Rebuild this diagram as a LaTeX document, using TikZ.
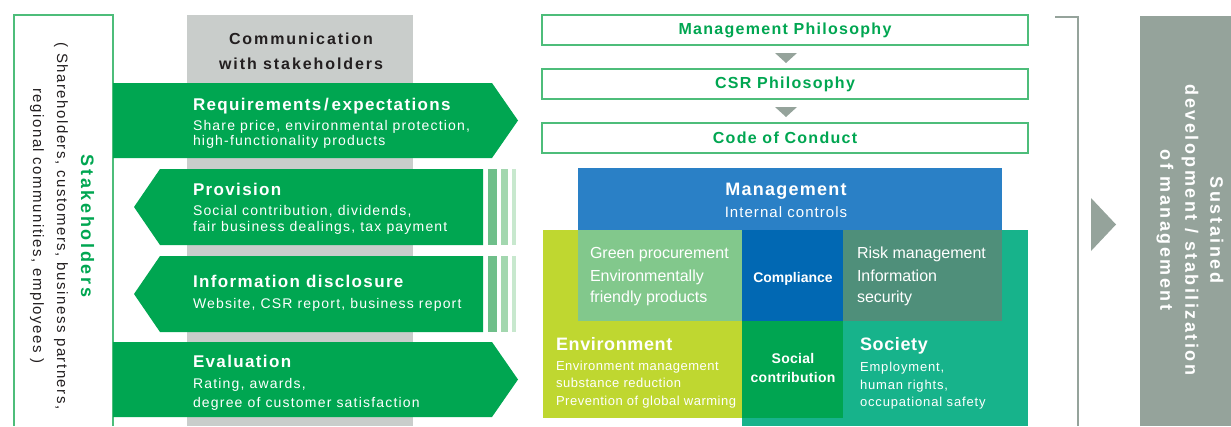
\documentclass[tikz,border=0pt]{standalone}
\usepackage{fontspec}
\setmainfont{Liberation Sans}
\newfontfamily\lsTitle[LetterSpace=8]{Liberation Sans}
\newfontfamily\lsDesc[LetterSpace=8.5]{Liberation Sans}
\newfontfamily\lsComm[LetterSpace=12]{Liberation Sans}
\newfontfamily\lsPhil[LetterSpace=8]{Liberation Sans}
\newfontfamily\lsStk[LetterSpace=15]{Liberation Sans}
\newfontfamily\lsStkB[LetterSpace=10]{Liberation Sans}
\newfontfamily\lsSus[LetterSpace=14]{Liberation Sans}
\newfontfamily\lsMg[LetterSpace=7]{Liberation Sans}
\newfontfamily\lsEnv[LetterSpace=4]{Liberation Sans}
\newfontfamily\lsSoc[LetterSpace=6.5]{Liberation Sans}
\newfontfamily\lsBig[LetterSpace=3.5]{Liberation Sans}
\newfontfamily\lsSc[LetterSpace=2]{Liberation Sans}
\definecolor{cgreen}{HTML}{00A651}
\definecolor{ccol}{HTML}{C9CDCB}
\definecolor{cborder}{HTML}{4DBD7A}
\definecolor{cstripeA}{HTML}{6FBF8A}
\definecolor{cstripeB}{HTML}{A3D7AF}
\definecolor{cstripeC}{HTML}{C8E8CE}
\definecolor{cgray}{HTML}{95A39B}
\definecolor{cmgmt}{HTML}{2A80C6}
\definecolor{ccomp}{HTML}{0168B3}
\definecolor{cgproc}{HTML}{82C88C}
\definecolor{crisk}{HTML}{4F8F7A}
\definecolor{cenv}{HTML}{BFD730}
\definecolor{csoc}{HTML}{00A551}
\definecolor{csociety}{HTML}{17B38B}
\definecolor{cdark}{HTML}{231F20}
\tikzset{
  every node/.style={inner sep=0pt, outer sep=0pt},
  ttl/.style={font=\lsTitle\fontsize{17}{20}\selectfont\bfseries, text=white, anchor=base west},
  dsc/.style={font=\lsDesc\fontsize{14}{16}\selectfont, text=white, anchor=base west},
  philbox/.style={draw=cborder, line width=1.3pt, fill=white, minimum width=486pt, minimum height=30pt, font=\lsPhil\fontsize{16}{18}\selectfont\bfseries, text=cgreen},
  downtri/.style={fill=cgray},
  inner/.style={font=\fontsize{16}{19}\selectfont, text=white, anchor=base west},
  envsmall/.style={font=\lsEnv\fontsize{13}{15}\selectfont, text=white, anchor=base west},
  socsmall/.style={font=\lsSoc\fontsize{13}{15}\selectfont, text=white, anchor=base west},
  big/.style={font=\lsBig\fontsize{18}{21}\selectfont\bfseries, text=white, anchor=base west},
}
\begin{document}
\begin{tikzpicture}[x=1pt,y=-1pt]
\useasboundingbox (0,0) rectangle (1231,426);
% stakeholders frame
\draw[cborder, line width=1.2pt] (14,426) -- (14,15) -- (113,15) -- (113,426);
\node[rotate=-90, align=center, font=\lsStkB\fontsize{15}{24}\selectfont, text=cdark] (stk) at (62,226)
  {{\lsStk\fontsize{18}{24}\selectfont\bfseries\color{cgreen} Stakeholders}\\( Shareholders, customers, business partners,\\regional communities, employees )};
% communication column
\fill[ccol] (187,15) rectangle (413,426);
\node[font=\lsComm\fontsize{16}{25}\selectfont\bfseries, text=cdark, align=center] (comm) at (301,51) {Communication\\with stakeholders};
% arrows
\fill[cgreen] (113,83) -- (492,83) -- (518,120.5) -- (492,158) -- (113,158) -- cycle;
\fill[cgreen] (483,169) -- (160,169) -- (134,207) -- (160,245) -- (483,245) -- cycle;
\fill[cgreen] (483,256) -- (160,256) -- (134,294) -- (160,332) -- (483,332) -- cycle;
\fill[cgreen] (113,342) -- (492,342) -- (518,379.5) -- (492,417) -- (113,417) -- cycle;
\foreach \ya/\yb in {169/245,256/332}{
  \fill[cstripeA] (488,\ya) rectangle (497,\yb);
  \fill[cstripeB] (501,\ya) rectangle (508,\yb);
  \fill[cstripeC] (512,\ya) rectangle (516,\yb);
}
\node[ttl] (r1) at (193,110) {Requirements\,/\,expectations};
\node[dsc] (r2) at (193,130) {Share price, environmental protection,};
\node[dsc] (r3) at (193,145) {high-functionality products};
\node[ttl] (p1) at (193,195) {Provision};
\node[dsc] (p2) at (193,215) {Social contribution, dividends,};
\node[dsc] (p3) at (193,231) {fair business dealings, tax payment};
\node[ttl] (i1) at (193,287) {Information disclosure};
\node[dsc] (i2) at (193,308) {Website, CSR report, business report};
\node[ttl] (e1) at (193,367) {Evaluation};
\node[dsc] (e2) at (193,388) {Rating, awards,};
\node[dsc] (e3) at (193,407) {degree of customer satisfaction};
% philosophy boxes
\node[philbox] (mp) at (785,30) {Management Philosophy};
\node[philbox] (csr) at (785,84) {CSR Philosophy};
\node[philbox] (coc) at (785,138) {Code of Conduct};
\fill[downtri] (775,53) -- (797,53) -- (786,63) -- cycle;
\fill[downtri] (775,107) -- (797,107) -- (786,117) -- cycle;
% overlapping areas
\fill[cmgmt] (578,168) rectangle (1002,230);
\fill[csociety] (742,230) rectangle (1028,426);
\fill[cenv] (543,230) rectangle (742,418);
\fill[cgproc] (578,230) rectangle (742,321);
\fill[ccomp] (742,230) rectangle (843,321);
\fill[crisk] (843,230) rectangle (1002,321);
\fill[csoc] (742,321) rectangle (843,418);
\node[font=\lsMg\fontsize{18}{21}\selectfont\bfseries, text=white, anchor=base] (mg1) at (786,195) {Management};
\node[font=\lsMg\fontsize{15}{18}\selectfont, text=white, anchor=base] (mg2) at (786,217) {Internal controls};
\node[inner] (g1) at (590,258) {Green procurement};
\node[inner] (g2) at (590,281) {Environmentally};
\node[inner] (g3) at (590,302) {friendly products};
\node[font=\fontsize{14}{16}\selectfont\bfseries, text=white, anchor=base] (cp) at (793,282) {Compliance};
\node[inner] (k1) at (857,258) {Risk management};
\node[inner] (k2) at (857,281) {Information};
\node[inner] (k3) at (857,302) {security};
\node[big] (en) at (556,350) {Environment};
\node[envsmall] (en1) at (556,370) {Environment management};
\node[envsmall] (en2) at (556,387) {substance reduction};
\node[envsmall] (en3) at (556,405) {Prevention of global warming};
\node[font=\lsSc\fontsize{14}{19}\selectfont\bfseries, text=white, align=center] (sc) at (793,368) {Social\\contribution};
\node[big] (so) at (860,350) {Society};
\node[socsmall] (so1) at (860,371) {Employment,};
\node[socsmall] (so2) at (860,389) {human rights,};
\node[socsmall] (so3) at (860,406) {occupational safety};
% bracket and result
\coordinate (b1) at (1055,17);
\coordinate (b2) at (1078,17);
\coordinate (b3) at (1078,426);
\draw[cgray, line width=2pt] (b1) -- (b2) -- (b3);
\fill[cgray] (1091,198) -- (1116,224.5) -- (1091,251) -- cycle;
\fill[cgray] (1140,16) rectangle (1231,426);
\node[rotate=-90, align=center, font=\lsSus\fontsize{18}{25}\selectfont\bfseries, text=white] (sus) at (1190,230)
  {Sustained\\development / stabilization\\of management};
\end{tikzpicture}
\end{document}
